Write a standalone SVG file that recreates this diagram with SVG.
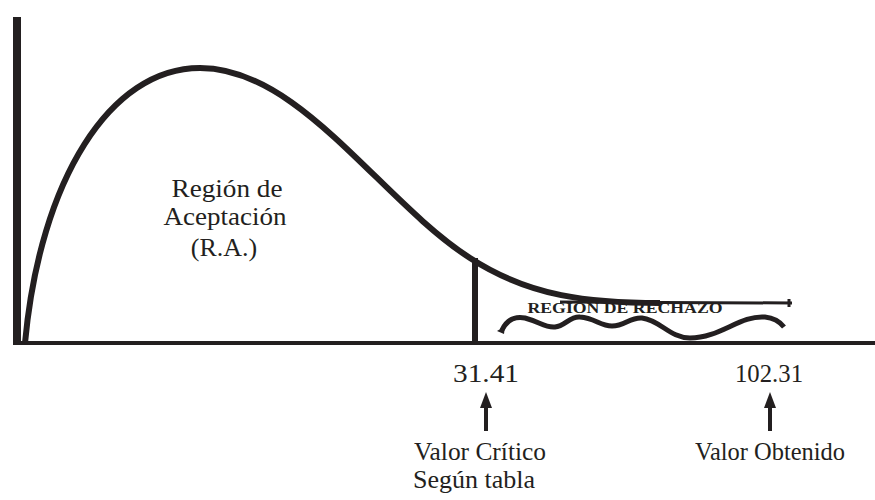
<svg xmlns="http://www.w3.org/2000/svg" width="875" height="500" viewBox="0 0 875 500">
<style>
.ln{fill:none;stroke:#231f20;stroke-linecap:butt;stroke-linejoin:round}
.t{font-family:"Liberation Serif",serif;fill:#231f20;text-anchor:middle}
.ah{fill:#231f20}
</style>
<rect width="875" height="500" fill="#fff"/>
<g id="axes">
<line class="ln" x1="17" y1="17" x2="17" y2="345" stroke-width="8"/>
<line class="ln" x1="13" y1="343" x2="875" y2="343" stroke-width="4"/>
</g>
<g id="curve">
<path class="ln" stroke-width="6" d="M25,343 C40,180 110,68 200,68 C300,68 380,200 470,258 C530,297 590,303 660,303"/>
<path class="ln" stroke-width="3" d="M560,302 L792,303 M789,299 L789,307"/>
</g>
<g id="critical-line">
<line class="ln" x1="475" y1="258" x2="475" y2="343" stroke-width="6"/>
</g>
<g id="rejection-wave">
<path class="ln" stroke-width="5" d="M502,330 C507,320 515,316 525,318 C540,322 545,328 555,327 C565,326 570,316 580,317 C595,318 600,326 612,326 C625,326 630,317 642,318 C660,320 670,338 690,338 C720,338 740,315 765,317 C775,318 780,322 784,327"/>
<path d="M497,331 L505,326 L504,334 Z" fill="#231f20"/>
</g>
<g id="region-acceptance">
<text class="t" x="227" y="197" font-size="26" textLength="111" lengthAdjust="spacingAndGlyphs">Región de</text>
<text class="t" x="225" y="225" font-size="26" textLength="123" lengthAdjust="spacingAndGlyphs">Aceptación</text>
<text class="t" x="224" y="256" font-size="26">(R.A.)</text>
</g>
<g id="region-rejection">
<text class="t" x="625" y="313" font-size="15" font-weight="bold" textLength="195" lengthAdjust="spacingAndGlyphs">REGIÓN DE RECHAZO</text>
</g>
<g id="critical-value">
<text class="t" x="486" y="382" font-size="25" textLength="66" lengthAdjust="spacingAndGlyphs">31.41</text>
<text class="t" x="480" y="460" font-size="25" textLength="132" lengthAdjust="spacingAndGlyphs">Valor Crítico</text>
<text class="t" x="474" y="488" font-size="25" textLength="122" lengthAdjust="spacingAndGlyphs">Según tabla</text>
</g>
<g id="obtained-value">
<text class="t" x="769" y="382" font-size="25" textLength="68" lengthAdjust="spacingAndGlyphs">102.31</text>
<text class="t" x="770" y="460" font-size="25" textLength="150" lengthAdjust="spacingAndGlyphs">Valor Obtenido</text>
</g>
<g id="connectors">
<line class="ln" x1="486" y1="431" x2="486" y2="405" stroke-width="4"/>
<polygon class="ah" points="486,392 480,408 492,408"/>
<line class="ln" x1="770" y1="431" x2="770" y2="405" stroke-width="4"/>
<polygon class="ah" points="770,392 764,408 776,408"/>
</g>
</svg>
